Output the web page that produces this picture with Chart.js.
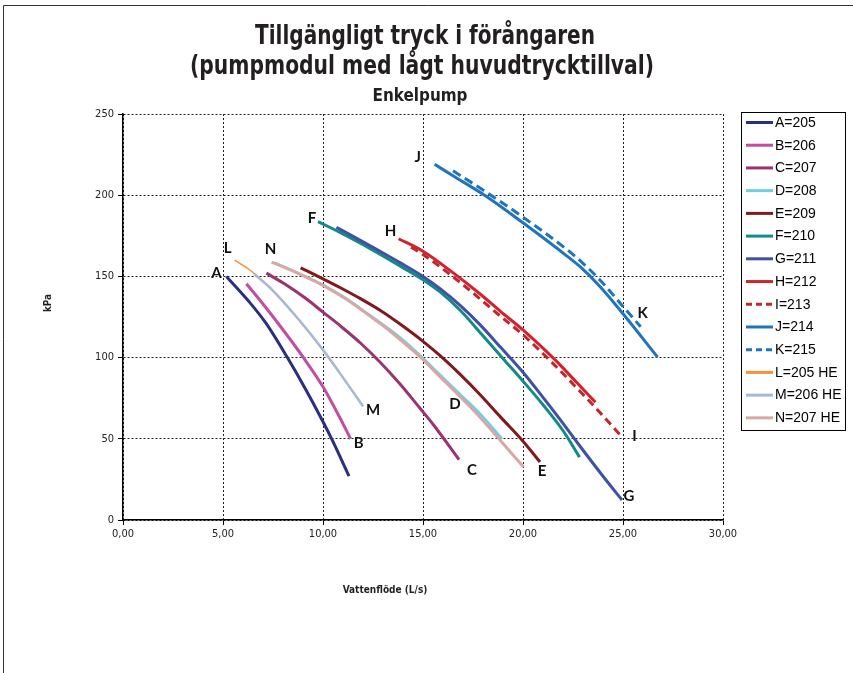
<!DOCTYPE html>
<html lang="sv">
<head>
<meta charset="utf-8">
<title>Tillgängligt tryck i förångaren</title>
<script src="https://cdn.jsdelivr.net/npm/chart.js@4.4.1/dist/chart.umd.min.js"></script>
<style>
  html, body { margin: 0; padding: 0; background: #fff; }
  canvas { display: block; }
</style>
</head>
<body>
<canvas id="pumpChart" width="853" height="673"></canvas>
<script>
// ---------- data (x = L/s, y = kPa) ----------
const seriesNames = ['A=205', 'B=206', 'C=207', 'D=208', 'E=209', 'F=210', 'G=211',
                     'H=212', 'I=213', 'J=214', 'K=215', 'L=205 HE', 'M=206 HE', 'N=207 HE'];
const curveLetters = ['A', 'B', 'C', 'D', 'E', 'F', 'G', 'H', 'I', 'J', 'K', 'L', 'M', 'N'];

const curveA = [[5.17,150],[6.3,134.5],[7.13,121.5],[8.22,100],[9.13,80.5],[10.0,60.5],[10.47,49],[11.3,27]];
const curveB = [[6.17,145.5],[7.13,131],[8.13,115],[9.05,99.5],[10.0,82],[10.8,64],[11.38,50]];
const curveC = [[7.17,152],[8.13,145],[9.13,136.5],[10.0,128],[10.87,119.5],[11.87,109],[12.87,97],[13.83,84],[14.87,68.5],[15.53,58.5],[16.8,37.2]];
const curveD = [[7.6,158.3],[8.8,151.8],[10.0,144.8],[11.13,136.6],[12.3,126.5],[13.87,112.2],[14.87,101.2],[15.87,89.2],[16.87,77.2],[17.87,65.2],[18.95,50]];
const curveE = [[8.88,155.3],[10.0,148.5],[10.87,143],[11.87,136.3],[12.87,129],[13.87,120.5],[15.0,110],[15.87,101],[16.87,89.5],[17.87,77],[18.87,63.5],[20.0,48.5],[20.85,35.7]];
const curveF = [[9.75,183.7],[10.87,177],[11.87,170.5],[12.87,163.5],[13.87,156.3],[15.0,148],[15.87,140.3],[16.87,129],[18.03,113],[19.03,99],[20.0,85.5],[21.03,70.5],[22.03,54.5],[22.83,38.7]];
const curveG = [[10.67,180.2],[11.87,172.2],[12.87,165.3],[13.87,158.3],[15.0,150],[15.87,142.3],[16.87,132],[17.87,120],[18.87,106.5],[20.0,91],[21.03,75],[22.03,59],[23.03,42.5],[24.03,26.5],[24.95,12.3]];
const curveH = [[13.78,173.2],[15.0,165.5],[16.53,152],[17.87,139],[18.87,128.5],[20.0,117],[21.53,99.5],[22.7,84.5],[23.62,72.5]];
const curveI = [[14.4,168],[15.0,163.5],[16.53,149.5],[17.87,136],[18.87,125.5],[20.0,114],[21.53,96],[22.87,79],[23.6,69.5],[24.87,52.2]];
const curveJ = [[15.58,219],[16.5,212],[18.1,199.8],[20.0,183],[22.2,162.5],[22.87,155.8],[23.87,143.5],[25.0,127],[26.73,100.3]];
const curveK = [[16.5,215],[18.2,201.6],[20.0,186.5],[22.2,166.5],[22.87,159.5],[23.87,147.5],[25.0,131.5],[25.88,119]];
const curveL = [[5.58,160],[6.47,152.7],[7.47,141.4],[8.8,123],[10.0,104.4],[10.8,91],[12.0,70]];
const curveM = [[6.55,151.6],[7.47,141.6],[8.8,123.3],[10.0,104.8],[10.8,91.2],[12.0,70]];
const curveN = [[7.43,158.8],[8.8,151.6],[10.0,144.5],[11.13,136.2],[12.3,126],[12.87,120.9],[13.87,111],[14.87,100.3],[15.87,88],[16.87,75.7],[17.87,63],[18.87,49],[20.03,32.6]];

const allCurves = [curveA, curveB, curveC, curveD, curveE, curveF, curveG,
                   curveH, curveI, curveJ, curveK, curveL, curveM, curveN];

const xTicks = [0, 5, 10, 15, 20, 25, 30];
const yTicks = [0, 50, 100, 150, 200, 250];

// ---------- styles ----------
const lineColors = ['#2B2F7F', '#C24DA3', '#9A3372', '#6CCFE2', '#801A1C', '#148A84', '#3F51A5',
                    '#D1232C', '#C1272D', '#1F74BD', '#1F74BD', '#F7923A', '#A8B8DB', '#D8A8A6'];
const lineWidths = [3, 3, 3, 2.5, 3, 3, 3, 3, 3, 3, 3, 1.5, 2.5, 3];
const lineDashes = [[], [], [], [], [], [], [], [], [8, 5], [], [9, 5], [], [], []];
// where each letter sits: next to first or last point, pixel offset
const labelSpots = [
    { at: 'start', dx: -10, dy: -3 },   // A
    { at: 'end', dx: 8, dy: 4 },        // B
    { at: 'end', dx: 13, dy: 11 },      // C
    { at: 'end', dx: -47, dy: -35 },    // D
    { at: 'end', dx: 2, dy: 9 },        // E
    { at: 'start', dx: -6, dy: -4 },    // F
    { at: 'end', dx: 7, dy: -4 },       // G
    { at: 'start', dx: -8, dy: -8 },    // H
    { at: 'end', dx: 14, dy: 1 },       // I
    { at: 'start', dx: -17, dy: -7 },   // J
    { at: 'end', dx: 2, dy: -14 },      // K
    { at: 'start', dx: -7, dy: -12 },   // L
    { at: 'end', dx: 10, dy: 4 },       // M
    { at: 'start', dx: -1, dy: -13 }    // N
];

const NARROW = '"Liberation Sans Narrow", "Arial Narrow", "DejaVu Sans Condensed", "Liberation Sans", sans-serif';
const ARIAL = '"Liberation Sans", Arial, sans-serif';
const LETTER_FONT = 'Lato, "Open Sans", sans-serif';

function fmtComma(v) {
    return v.toFixed(2).replace('.', ',');
}

// squeeze text to a given width (no narrow font installed)
function drawSqueezed(ctx, text, cx, cy, targetWidth) {
    const w = ctx.measureText(text).width;
    const k = Math.min(1, targetWidth / w);
    ctx.save();
    ctx.translate(cx, cy);
    ctx.scale(k, 1);
    ctx.fillText(text, 0, 0);
    ctx.restore();
}

// frame, titles and axis titles
const frameTitlePlugin = {
    id: 'frameTitles',
    beforeDraw(chart) {
        const ctx = chart.ctx;
        ctx.save();
        ctx.fillStyle = '#fff';
        ctx.fillRect(0, 0, chart.width, chart.height);
        ctx.strokeStyle = '#333';
        ctx.lineWidth = 1;
        ctx.beginPath();
        ctx.moveTo(3.5, chart.height);
        ctx.lineTo(3.5, 5.5);
        ctx.lineTo(chart.width, 5.5);
        ctx.stroke();
        ctx.restore();
    },
    afterDraw(chart) {
        const ctx = chart.ctx;
        ctx.save();
        ctx.fillStyle = '#231F20';
        ctx.textAlign = 'center';
        ctx.textBaseline = 'middle';
        ctx.font = 'bold 27px ' + NARROW;
        drawSqueezed(ctx, 'Tillgängligt tryck i förångaren', 425, 37, 340);
        drawSqueezed(ctx, '(pumpmodul med lågt huvudtrycktillval)', 422, 67, 464);
        ctx.font = 'bold 17px ' + NARROW;
        drawSqueezed(ctx, 'Enkelpump', 420, 97, 95);
        ctx.font = 'bold 10px ' + NARROW;
        drawSqueezed(ctx, 'Vattenflöde (L/s)', 385, 590, 86);
        ctx.translate(48, 303);
        ctx.rotate(-Math.PI / 2);
        drawSqueezed(ctx, 'kPa', 0, 0, 18);
        ctx.restore();
    }
};

// letters A..N beside the curves
const curveLabelPlugin = {
    id: 'curveLabels',
    afterDatasetsDraw(chart) {
        const { ctx, scales: { x, y } } = chart;
        ctx.save();
        ctx.font = 'bold 15px ' + LETTER_FONT;
        ctx.fillStyle = '#111';
        ctx.textAlign = 'center';
        ctx.textBaseline = 'middle';
        curveLetters.forEach((letter, i) => {
            const pts = allCurves[i];
            const spot = labelSpots[i];
            const p = spot.at === 'start' ? pts[0] : pts[pts.length - 1];
            ctx.fillText(letter, x.getPixelForValue(p[0]) + spot.dx, y.getPixelForValue(p[1]) + spot.dy);
        });
        ctx.restore();
    }
};

// boxed legend on the right, like the Excel one
const boxLegendPlugin = {
    id: 'boxLegend',
    afterDraw(chart) {
        const ctx = chart.ctx;
        const left = chart.chartArea.right + 18;
        const top = 112, w = 104, h = 318;
        ctx.save();
        ctx.strokeStyle = '#000';
        ctx.lineWidth = 1;
        ctx.strokeRect(Math.round(left) + 0.5, top + 0.5, w, h);
        ctx.font = '14px ' + ARIAL;
        ctx.textAlign = 'left';
        ctx.textBaseline = 'middle';
        chart.data.datasets.forEach((ds, i) => {
            const cy = top + 10.5 + i * 22.72;
            ctx.beginPath();
            ctx.setLineDash(ds.borderDash.length ? [6, 4] : []);
            ctx.lineWidth = 3;
            ctx.strokeStyle = ds.borderColor;
            ctx.moveTo(left + 5, cy);
            ctx.lineTo(left + 32, cy);
            ctx.stroke();
            ctx.setLineDash([]);
            ctx.fillStyle = '#000';
            ctx.fillText(ds.label, left + 34, cy + 0.5);
        });
        ctx.restore();
    }
};

const datasets = allCurves.map((pts, i) => ({
    label: seriesNames[i],
    data: pts.map(p => ({ x: p[0], y: p[1] })),
    borderColor: lineColors[i],
    borderWidth: lineWidths[i],
    borderDash: lineDashes[i],
    cubicInterpolationMode: 'monotone',
    pointRadius: 0,
    fill: false,
    order: -i   // later series on top, as in Excel
}));

const tickFont = { family: NARROW, size: 11 };

new Chart(document.getElementById('pumpChart'), {
    type: 'line',
    data: { datasets: datasets },
    options: {
        responsive: false,
        animation: false,
        events: [],
        layout: { padding: { top: 114, right: 130, bottom: 0, left: 0 } },
        plugins: {
            legend: { display: false },
            title: { display: false },
            tooltip: { enabled: false }
        },
        scales: {
            x: {
                type: 'linear',
                min: xTicks[0],
                max: xTicks[xTicks.length - 1],
                afterBuildTicks: scale => { scale.ticks = xTicks.map(v => ({ value: v })); },
                afterFit: scale => { scale.height = 153; },
                ticks: { callback: v => fmtComma(v), font: tickFont, color: '#222', padding: 3, maxRotation: 0 },
                grid: { color: '#222', lineWidth: 1, tickLength: 5, tickColor: '#000' },
                border: { color: '#000', width: 1.5, dash: [2, 2] }
            },
            y: {
                type: 'linear',
                min: yTicks[0],
                max: yTicks[yTicks.length - 1],
                afterBuildTicks: scale => { scale.ticks = yTicks.map(v => ({ value: v })); },
                afterFit: scale => { scale.width = 123; },
                ticks: { font: tickFont, color: '#222', padding: 4 },
                grid: { color: '#222', lineWidth: 1, tickLength: 5, tickColor: '#000' },
                border: { color: '#000', width: 1.5, dash: [2, 2] }
            }
        }
    },
    plugins: [frameTitlePlugin, curveLabelPlugin, boxLegendPlugin]
});
</script>
</body>
</html>
